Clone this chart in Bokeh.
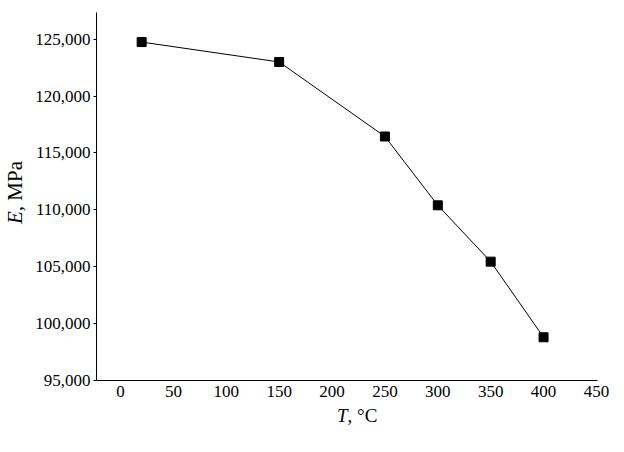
from bokeh.plotting import figure
from bokeh.models import Range1d, NumeralTickFormatter, FixedTicker, Div
from bokeh.layouts import row, column
from bokeh.embed import file_html
from bokeh.resources import INLINE

temperature = [20, 150, 250, 300, 350, 400]
modulus = [124750, 123000, 116450, 110400, 105450, 98800]
x_ticks = [0, 50, 100, 150, 200, 250, 300, 350, 400, 450]
y_ticks = [95000, 100000, 105000, 110000, 115000, 120000, 125000]
x_label_var, x_label_unit = "T", ", °C"
y_label_var, y_label_unit = "E", ", MPa"

FONT = "Liberation Serif"

p = figure(width=586, height=406, output_backend="svg", toolbar_location=None,
           x_range=Range1d(-22.7, 451), y_range=Range1d(95000, 127350),
           min_border_left=66, min_border_right=19, min_border_top=12, min_border_bottom=26)
p.outline_line_color = None
p.xgrid.visible = False
p.ygrid.visible = False
p.background_fill_color = "white"
p.border_fill_color = "white"

p.line(temperature, modulus, line_color="black", line_width=1)
p.scatter(temperature, modulus, marker="square", size=9, fill_color="black", line_color="black")

p.xaxis.axis_line_color = "black"
p.yaxis.axis_line_color = "black"
p.xaxis.minor_tick_line_color = None
p.yaxis.minor_tick_line_color = None
p.xaxis.major_label_text_font = FONT
p.yaxis.major_label_text_font = FONT
p.xaxis.major_label_text_font_size = "17px"
p.yaxis.major_label_text_font_size = "17px"
p.xaxis.major_label_text_color = "black"
p.yaxis.major_label_text_color = "black"

p.xaxis.ticker = FixedTicker(ticks=x_ticks)
p.xaxis.major_tick_line_color = None
p.xaxis.major_tick_out = 0
p.xaxis.major_tick_in = 0
p.xaxis.major_label_standoff = 5

p.yaxis.ticker = FixedTicker(ticks=y_ticks)
p.yaxis.formatter = NumeralTickFormatter(format="0,0")
p.yaxis.major_tick_out = 3
p.yaxis.major_tick_in = 0
p.yaxis.major_tick_line_color = "black"
p.yaxis.major_label_standoff = 3

ydiv = Div(
    text=(f'<div style="writing-mode: vertical-rl; transform: rotate(180deg); '
          f'height: 384px; width: 30px; text-align: center; line-height: 30px; '
          f"font-family: '{FONT}'; font-size: 21px; color: black; white-space: nowrap;\">"
          f'<i>{y_label_var}</i>{y_label_unit}</div>'),
    width=30, height=444, margin=0)

xdiv = Div(
    text=(f"<div style=\"padding-left: 307px; line-height: 19px; font-family: '{FONT}'; "
          f'font-size: 19px; color: black; white-space: nowrap;">'
          f'<i>{x_label_var}</i>{x_label_unit}</div>'),
    width=586, height=38, margin=0)

layout = row(ydiv, column(p, xdiv, spacing=0), spacing=0)

open("out.html", "w").write(file_html(layout, INLINE))
